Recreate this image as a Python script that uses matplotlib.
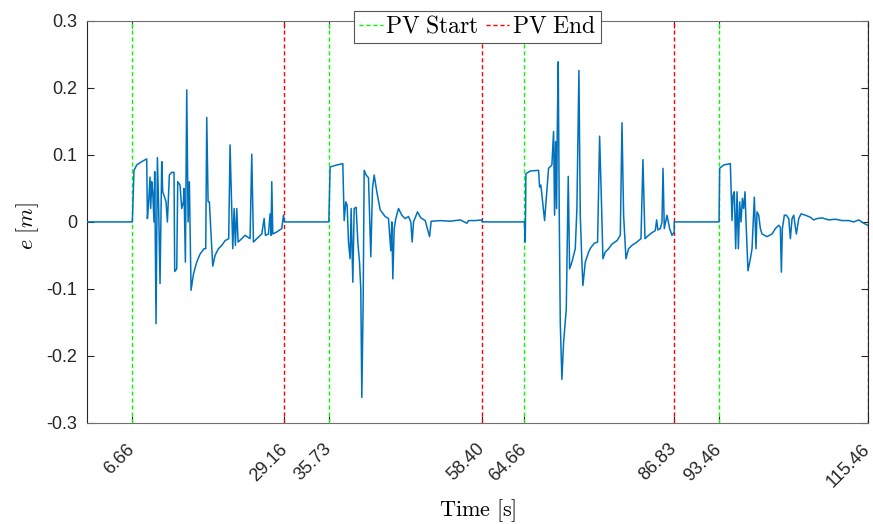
"""
Ошибка слежения e по времени с отметками начала и конца PV
"""
import matplotlib
matplotlib.use('Agg')
import matplotlib.pyplot as plt
import numpy as np

plt.rcParams['mathtext.fontset'] = 'cm'
plt.rcParams['font.family'] = ['Liberation Sans', 'DejaVu Sans']

# Моменты начала и конца PV
pv_start = [6.66, 35.73, 64.66, 93.46]
pv_end = [29.16, 58.40, 86.83, 115.46]

# Сигнал ошибки
t_seg1 = [0.0, 6.66, 6.91, 7.31, 8.05, 8.79, 8.89, 9.08, 9.28, 9.38, 9.53, 9.68, 9.87, 9.97,
          10.17, 10.37, 10.56, 10.76, 11.01, 11.16, 11.5, 11.65, 11.85, 12.14, 12.49, 12.83,
          12.93, 13.23, 13.38, 13.72, 13.97, 14.22, 14.31, 14.51, 14.71, 14.91, 15.1, 15.35,
          15.7, 16.19, 16.68, 17.27, 17.52, 17.67, 17.87, 18.06, 18.26, 18.56, 18.9, 19.4,
          19.89, 20.38, 20.92, 21.12, 21.37, 21.52, 21.72, 21.91, 22.11, 22.31, 22.85, 23.34,
          24.08, 24.33, 24.58, 25.07, 25.81, 26.16, 26.35, 26.8, 27.04, 27.19, 27.29, 27.44,
          28.03, 28.77, 29.02, 29.16]
e_seg1 = [0.0, 0.0, 0.077, 0.085, 0.09, 0.094, 0.005, 0.03, 0.067, 0.02, 0.06, 0.045, 0.0, 0.075,
          -0.152, 0.096, 0.02, -0.092, 0.09, 0.045, 0.035, 0.03, 0.0, 0.07, 0.074, 0.074,
          -0.074, -0.07, 0.06, 0.055, 0.02, 0.03, 0.05, -0.06, 0.197, 0.0, 0.06, -0.102,
          -0.078, -0.06, -0.048, -0.04, -0.04, 0.156, 0.03, 0.03, -0.01, -0.066, -0.05, -0.04,
          -0.035, -0.028, -0.025, 0.115, 0.02, -0.04, 0.02, -0.035, 0.02, -0.03, -0.025, -0.02,
          -0.025, 0.101, -0.03, -0.025, -0.018, 0.005, -0.02, -0.018, 0.012, -0.02, 0.06, -0.018,
          -0.015, -0.01, 0.01, 0.0]

t_seg2 = [35.73, 35.92, 36.91, 37.8, 38.0, 38.24, 38.44, 38.64, 38.88, 39.03, 39.28, 39.48,
          39.77, 40.02, 40.27, 40.46, 40.61, 40.81, 40.96, 41.25, 41.6, 41.94, 42.19, 42.44,
          42.83, 43.33, 44.07, 44.56, 44.9, 45.05, 45.2, 45.4, 45.64, 46.04, 46.53, 47.02,
          47.52, 47.86, 48.06, 48.26, 48.85, 49.34, 49.99, 50.63, 50.87, 52.21, 53.69, 55.17,
          56.16, 56.4, 57.39, 58.4]
e_seg2 = [0.0, 0.082, 0.085, 0.087, 0.002, 0.03, 0.025, -0.03, -0.055, 0.02, -0.09, 0.02,
          0.022, -0.03, -0.06, -0.1, -0.262, -0.12, 0.077, 0.07, 0.066, -0.052, 0.05, 0.07,
          0.045, 0.018, 0.008, 0.005, -0.043, 0.0, -0.085, -0.01, 0.005, 0.02, 0.01, 0.005,
          0.008, 0.0, -0.03, 0.0, 0.015, 0.006, 0.002, -0.022, 0.001, 0.002, 0.001, 0.003,
          -0.002, 0.002, 0.002, 0.003]

t_seg3 = [58.4, 64.66, 64.79, 64.89, 65.53, 66.76, 66.91, 67.1, 67.65, 68.24, 68.73, 68.98,
          69.13, 69.28, 69.43, 69.52, 69.67, 69.82, 69.97, 70.21, 70.46, 70.86, 71.15, 71.35,
          71.69, 72.19, 72.43, 72.73, 72.93, 73.17, 73.32, 73.67, 74.16, 74.51, 75.0, 75.49,
          75.79, 76.09, 76.28, 76.63, 77.12, 77.62, 78.36, 78.85, 79.1, 79.34, 79.69, 80.08,
          80.58, 81.32, 81.91, 82.2, 82.5, 83.04, 83.54, 84.03, 84.23, 84.42, 84.77, 85.02,
          85.17, 85.36, 85.76, 86.15, 86.5, 86.83]
e_seg3 = [0.0, 0.0, -0.03, 0.072, 0.076, 0.077, 0.052, 0.055, 0.002, 0.08, 0.085, 0.135,
          0.01, 0.12, 0.02, 0.13, 0.239, 0.01, -0.15, -0.235, -0.18, -0.13, 0.068, -0.07,
          -0.06, -0.04, 0.02, 0.226, 0.01, -0.06, -0.095, -0.06, -0.045, -0.038, -0.032, -0.03,
          0.128, 0.02, -0.055, -0.045, -0.04, -0.033, -0.028, -0.02, 0.148, 0.01, -0.055, -0.04,
          -0.035, -0.03, -0.025, 0.093, -0.025, -0.02, -0.016, -0.013, 0.003, -0.012, -0.01, 0.0,
          0.08, -0.01, 0.01, -0.01, -0.02, -0.015]

t_seg4 = [86.83, 93.46, 93.55, 94.14, 95.13, 95.38, 95.53, 95.72, 95.92, 96.12, 96.32, 96.51,
          96.71, 96.91, 97.1, 97.3, 97.45, 97.74, 98.09, 98.34, 98.68, 98.93, 99.08, 99.33,
          99.57, 99.82, 100.56, 101.3, 101.79, 102.29, 102.53, 102.68, 102.83, 103.12, 103.42,
          103.77, 104.01, 104.26, 104.51, 104.75, 104.9, 105.25, 105.59, 106.23, 106.97, 107.47,
          107.96, 108.7, 109.69, 110.67, 111.66, 112.65, 113.39, 114.13, 114.87, 115.46]
e_seg4 = [0.0, 0.0, 0.08, 0.085, 0.087, 0.002, 0.04, 0.045, -0.04, 0.045, -0.04, 0.03,
          0.0, 0.035, 0.02, 0.045, 0.0, -0.073, -0.055, -0.04, 0.037, -0.04, 0.015, 0.01,
          -0.01, -0.018, -0.022, -0.018, -0.01, -0.005, -0.008, -0.075, -0.01, 0.01, 0.01,
          0.005, -0.025, 0.005, 0.01, -0.008, -0.018, 0.005, 0.012, 0.01, 0.007, 0.003,
          0.005, 0.006, 0.003, 0.004, 0.002, 0.002, 0.0, 0.003, -0.002, -0.005]

time = np.array(t_seg1 + t_seg2 + t_seg3 + t_seg4)
err = np.array(e_seg1 + e_seg2 + e_seg3 + e_seg4)

y_ticks = [-0.3, -0.2, -0.1, 0, 0.1, 0.2, 0.3]
y_labels = ['-0.3', '-0.2', '-0.1', '0', '0.1', '0.2', '0.3']

fig = plt.figure(figsize=(8.73, 5.24), dpi=100)
ax = fig.add_axes([0.1, 0.193, 0.894, 0.767])

ax.plot(time, err, color='#0072BD', linewidth=1.1, zorder=3)

for i, t in enumerate(pv_start):
    ax.axvline(t, color=(0, 1, 0), linestyle=(0, (3, 2)), linewidth=1,
               label=r'$\mathrm{PV\ Start}$' if i == 0 else None, zorder=2)
for i, t in enumerate(pv_end):
    ax.axvline(t, color=(1, 0, 0), linestyle=(0, (3, 2)), linewidth=1,
               label=r'$\mathrm{PV\ End}$' if i == 0 else None, zorder=2)

ax.set_xlim(0, 115.46)
ax.set_ylim(-0.3, 0.3)

ticks = sorted(pv_start + pv_end)
ax.set_xticks(ticks)
ax.set_xticklabels([f'{t:.2f}' for t in ticks], rotation=45, ha='right', va='center',
                   rotation_mode='anchor', fontsize=13, color='#262626')
ax.set_yticks(y_ticks)
ax.set_yticklabels(y_labels, fontsize=13, color='#262626')

ax.tick_params(direction='in', top=True, right=True, length=5, width=0.8, colors='#262626')
ax.tick_params(axis='x', pad=17)
ax.tick_params(axis='y', pad=7)

for name, side in ax.spines.items():
    side.set_color('#262626' if name in ('left', 'right') else '#6e6e6e')
    side.set_linewidth(0.8)

ax.set_xlabel(r'$\mathrm{Time\ [s]}$', fontsize=16)
ax.xaxis.set_label_coords(0.5, -0.185)
ax.set_ylabel(r'$e\ [m]$', fontsize=16)
ax.yaxis.set_label_coords(-0.059, 0.49)

leg = ax.legend(loc='center', bbox_to_anchor=(0.5, 0.985), ncol=2, fontsize=17,
                handlelength=1.0, handletextpad=0.1, columnspacing=0.3,
                borderpad=0.2, borderaxespad=0, fancybox=False, framealpha=1)
leg.get_frame().set_edgecolor('#555555')
leg.get_frame().set_linewidth(0.8)

fig.savefig('out.png', dpi=100)
